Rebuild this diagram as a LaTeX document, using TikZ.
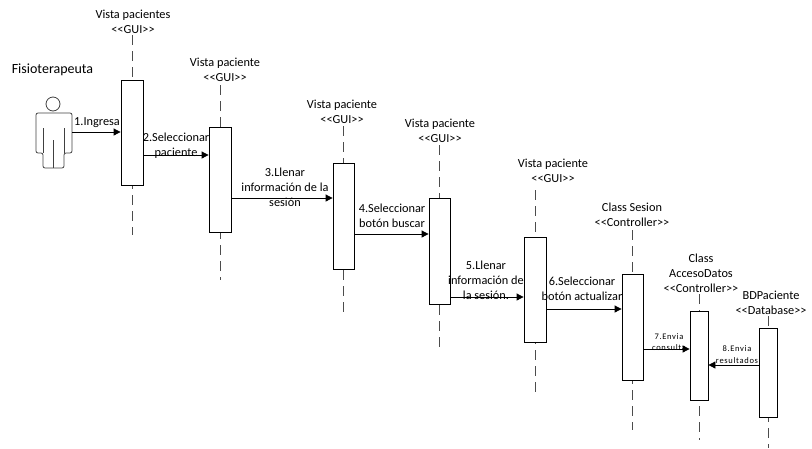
\documentclass[tikz,border=0pt]{standalone}
\usepackage{fontspec}
\setmainfont{Carlito}
\usetikzlibrary{arrows.meta}

\newcommand{\stereo}[1]{<\kern0pt<#1>\kern0pt>}

\tikzset{
  lbl/.style={align=center, font=\fontsize{12.3}{15}\selectfont, inner sep=0pt},
  tiny/.style={align=center, font=\fontsize{8.5}{11.5}\selectfont\addfontfeature{LetterSpace=8}, inner sep=0pt},
  actbox/.style={draw, fill=white, minimum width=21pt, inner sep=0pt},
  life/.style={draw=black!70, dash pattern=on 10pt off 6pt},
  msg/.style={-{Triangle[length=7pt,width=7pt]}},
}

\begin{document}
\begin{tikzpicture}[x=1pt, y=-1pt, line width=0.8pt]
  \useasboundingbox (0,0) rectangle (812,448);

  % actor
  \node[font=\fontsize{14}{16}\selectfont, inner sep=0pt] (fisio) at (52.5,70) {Fisioterapeuta};
  \draw[black!75] (53,104) circle (7);
  \draw[black!75, rounded corners=2pt] (43,168) -- (43,153) -- (36,153) -- (36,113) -- (72,113) -- (72,153) -- (64,153) -- (64,168) -- cycle;
  \draw[black!75] (43,128) -- (43,153) (64,128) -- (64,153) (53,140) -- (53,168);
  \coordinate (act) at (72,132);

  % lifeline heads
  \node[lbl] (H1) at (133,21.5) {Vista pacientes\\\stereo{GUI}};
  \node[lbl] (H2) at (225,69.5) {Vista paciente\\\stereo{GUI}};
  \node[lbl] (H3) at (342,111.5) {Vista paciente\\\stereo{GUI}};
  \node[lbl] (H4) at (440,130.5) {Vista paciente\\\stereo{GUI}};
  \node[lbl] (H5) at (553,171) {Vista paciente\\\stereo{GUI}};
  \node[lbl] (H6) at (632,214.5) {Class Sesion\\\stereo{Controller}};
  \node[lbl] (H7) at (701,273) {Class\\AccesoDatos\\\stereo{Controller}};
  \node[lbl] (H8) at (771,302.5) {BDPaciente\\\stereo{Database}};

  % lifelines
  \draw[life] (132,35) -- (132,235);
  \draw[life] (220,85) -- (220,280);
  \draw[life] (343.5,126) -- (343.5,318);
  \draw[life] (439.5,145) -- (439.5,352);
  \draw[life] (535,190) -- (535,392);
  \draw[life] (632.5,230) -- (632.5,430);
  \draw[life] (699,294) -- (699,440);
  \draw[life] (768,316) -- (768,448);

  % activations
  \node[actbox, minimum width=22pt, minimum height=105pt] (B1) at (132,132.5) {};
  \node[actbox, minimum width=22pt, minimum height=105pt] (B2) at (220,179.5) {};
  \node[actbox, minimum height=106pt] (B3) at (343.5,216) {};
  \node[actbox, minimum height=106pt] (B4) at (439.5,251) {};
  \node[actbox, minimum width=22pt, minimum height=105pt] (B5) at (535,289.5) {};
  \node[actbox, minimum height=106pt] (B6) at (632.5,327) {};
  \node[actbox, minimum width=18pt, minimum height=89pt] (B7) at (699,355.5) {};
  \node[actbox, minimum width=18pt, minimum height=89pt] (B8) at (768,372.5) {};

  % messages
  \draw[msg] (act) -- (B1.west |- act);
  \node[lbl, anchor=south] (M1) at (97,128) {1.Ingresa};
  \draw[msg] (B1.east |- 0,155) -- (B2.west |- 0,155);
  \node[lbl] (M2) at (176,146) {2.Seleccionar\\paciente};
  \draw[msg] (B2.east |- 0,198) -- (B3.west |- 0,198);
  \node[lbl] (M3) at (285,187) {3.Llenar\\información de la\\sesión};
  \draw[msg] (B3.east |- 0,234) -- (B4.west |- 0,234);
  \node[lbl] (M4) at (392,216) {4.Seleccionar\\botón buscar};
  \draw[msg] (B4.east |- 0,297) -- (B5.west |- 0,297);
  \node[lbl] (M5) at (486,280) {5.Llenar\\información de\\la sesión.};
  \draw[msg] (B5.east |- 0,309) -- (B6.west |- 0,309);
  \node[lbl] (M6) at (582,289) {6.Seleccionar\\botón actualizar};
  \draw[msg] (B6.east |- 0,349) -- (B7.west |- 0,349);
  \node[tiny] (M7) at (669,342) {7.Envia\\consulta};
  \draw[msg] (B8.west |- 0,365) -- (B7.east |- 0,365);
  \node[tiny] (M8) at (737,354.5) {8.Envia\\resultados};
\end{tikzpicture}
\end{document}
